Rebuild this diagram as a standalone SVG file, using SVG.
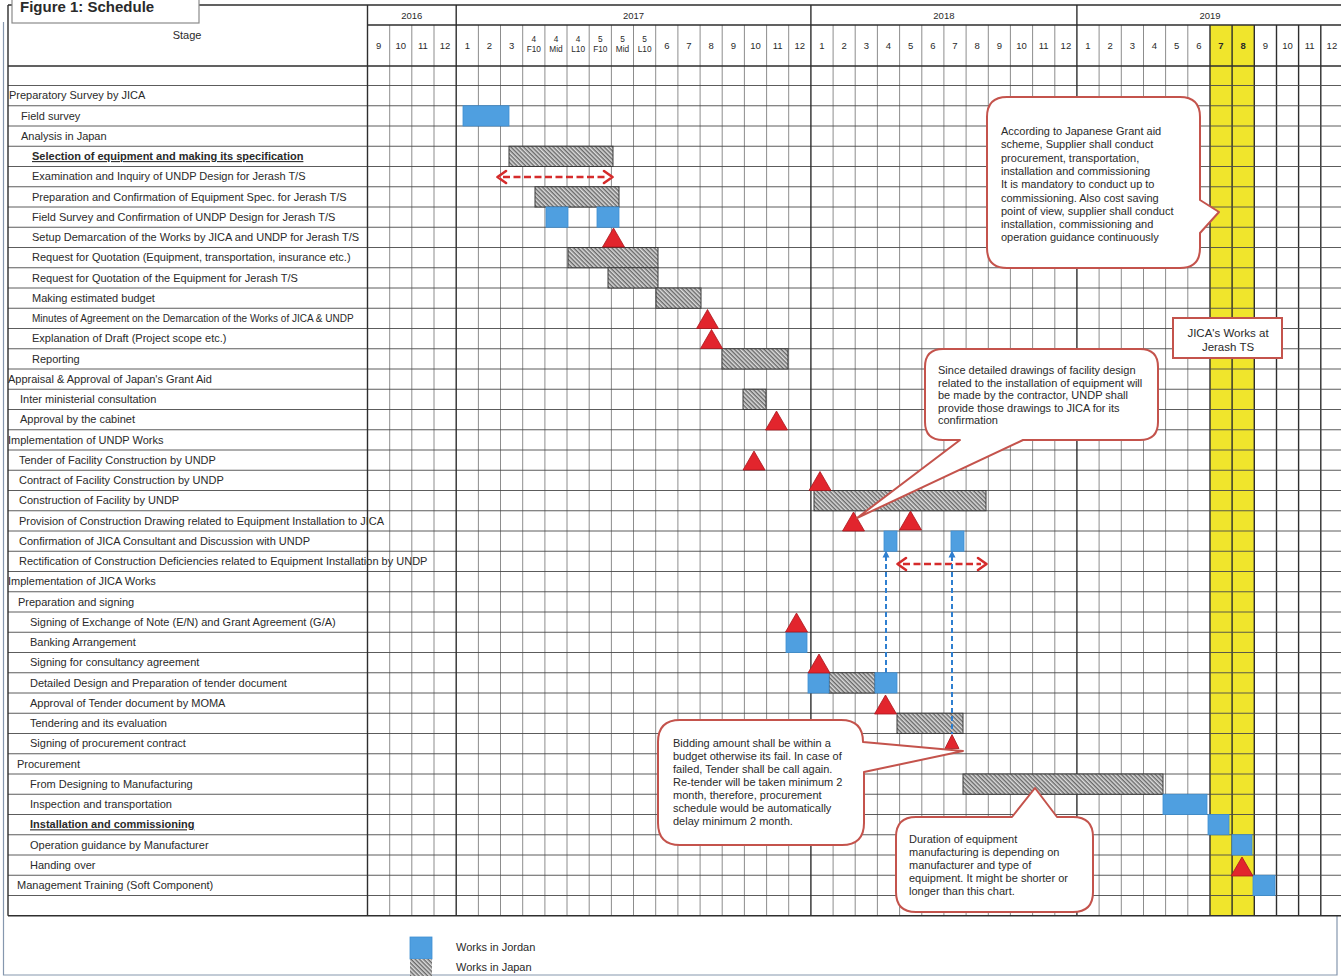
<svg xmlns="http://www.w3.org/2000/svg" xmlns:xlink="http://www.w3.org/1999/xlink" width="1341" height="978" viewBox="0 0 1341 978">
  <style>
    text { font-family: "Liberation Sans", Arial, sans-serif; fill: #2a2a2a; }
    .lbl { font-size: 11px; }
    .sm { font-size: 10px; }
    .bu { font-weight: bold; text-decoration: underline; }
    .hdr { font-size: 9.5px; text-anchor: middle; }
    .hdr2 { font-size: 8.3px; text-anchor: middle; }
    .note { font-size: 11px; }
    .jp { fill: url(#hatch); stroke: #3a3a3a; stroke-width: 1; }
    .jo { fill: #4f9fe0; stroke: #3f8fd2; stroke-width: 0.8; }
    .ms { fill: #e2252d; stroke: #a8151c; stroke-width: 0.8; }
    .callout { fill: #ffffff; stroke: #c4534c; stroke-width: 2; stroke-linejoin: round; }
    .grid { stroke: #707070; stroke-width: 0.8; fill: none; }
    .rows { stroke: #4a4a4a; stroke-width: 0.9; fill: none; }
    .yr { stroke: #2e2e2e; stroke-width: 1.4; fill: none; }
    .rdash { stroke: #d52b2b; stroke-width: 2.6; stroke-dasharray: 7 3.5; fill: none; }
    .rhead { stroke: #d52b2b; stroke-width: 2.6; fill: none; stroke-linecap: round; stroke-linejoin: round; }
    .bdash { stroke: #2e7fd0; stroke-width: 2; stroke-dasharray: 5 3; fill: none; }
  </style>
  <defs>
    <pattern id="hatch" patternUnits="userSpaceOnUse" width="3" height="3" patternTransform="rotate(45)">
      <rect width="3" height="3" fill="#dcdcdc"/>
      <line x1="0" y1="0.8" x2="3" y2="0.8" stroke="#3c3c3c" stroke-width="1.05"/>
    </pattern>
    <path id="tri" d="M0 0L11 19H-11Z"/>
    <path id="tri-s" d="M0 0L7 14H-7Z"/>
  </defs>

  <rect width="1341" height="978" fill="#ffffff"/>

  <!-- outer page frame -->
  <path d="M3.5 22V975H1337V916" fill="none" stroke="#8597ae" stroke-width="1.2"/>

  <!-- highlighted months (2019 Jul-Aug) -->
  <rect x="1210" y="25" width="44.3" height="890.75" fill="#f0e52c"/>

  <!-- grid -->
  <g id="grid">
    <path class="grid" d="M389.7 25V915.75M411.8 25V915.75M434 25V915.75M478.4 25V915.75M500.5 25V915.75M522.7 25V915.75M544.9 25V915.75M567 25V915.75M589.2 25V915.75M611.4 25V915.75M633.5 25V915.75M655.7 25V915.75M677.9 25V915.75M700.1 25V915.75M722.2 25V915.75M744.4 25V915.75M766.6 25V915.75M788.7 25V915.75M833.1 25V915.75M855.2 25V915.75M877.4 25V915.75M899.6 25V915.75M921.8 25V915.75M943.9 25V915.75M966.1 25V915.75M988.3 25V915.75M1010.4 25V915.75M1032.6 25V915.75M1054.8 25V915.75M1099.1 25V915.75M1121.3 25V915.75M1143.5 25V915.75M1165.6 25V915.75M1187.8 25V915.75"/>
    <path class="yr" d="M1210 25V915.75M1232.1 25V915.75M1254.3 25V915.75M1276.5 25V915.75M1298.6 25V915.75M1320.8 25V915.75" stroke-width="0.9" stroke="#555"/>
    <path class="rows" d="M8 85.5H1341M8 105.75H1341M8 126H1341M8 146.25H1341M8 166.5H1341M8 186.75H1341M8 207H1341M8 227.25H1341M8 247.5H1341M8 267.75H1341M8 288H1341M8 308.25H1341M8 328.5H1341M8 348.75H1341M8 369H1341M8 389.25H1341M8 409.5H1341M8 429.75H1341M8 450H1341M8 470.25H1341M8 490.5H1341M8 510.75H1341M8 531H1341M8 551.25H1341M8 571.5H1341M8 591.75H1341M8 612H1341M8 632.25H1341M8 652.5H1341M8 672.75H1341M8 693H1341M8 713.25H1341M8 733.5H1341M8 753.75H1341M8 774H1341M8 794.25H1341M8 814.5H1341M8 834.75H1341M8 855H1341M8 875.25H1341M8 895.5H1341"/>
    <path class="yr" d="M8 5H1341M367.5 25H1341M8 66H1341M8 915.75H1341M8 5V915.75M367.5 5V915.75M456.2 5V915.75M810.9 5V915.75M1076.9 5V915.75"/>
  </g>

  <!-- header -->
  <g id="header">
    <text class="lbl" x="187" y="38.5" text-anchor="middle">Stage</text>
    <text class="hdr" x="411.8" y="18.5">2016</text>
    <text class="hdr" x="633.5" y="18.5">2017</text>
    <text class="hdr" x="943.9" y="18.5">2018</text>
    <text class="hdr" x="1210" y="18.5">2019</text>
    <g class="hdr">
      <text class="hdr" x="378.6" y="48.5">9</text>
      <text class="hdr" x="400.8" y="48.5">10</text>
      <text class="hdr" x="422.9" y="48.5">11</text>
      <text class="hdr" x="445.1" y="48.5">12</text>
      <text class="hdr" x="467.3" y="48.5">1</text>
      <text class="hdr" x="489.4" y="48.5">2</text>
      <text class="hdr" x="511.6" y="48.5">3</text>
      <text class="hdr2" x="533.8" y="41.5">4</text><text class="hdr2" x="533.8" y="51.5">F10</text>
      <text class="hdr2" x="556" y="41.5">4</text><text class="hdr2" x="556" y="51.5">Mid</text>
      <text class="hdr2" x="578.1" y="41.5">4</text><text class="hdr2" x="578.1" y="51.5">L10</text>
      <text class="hdr2" x="600.3" y="41.5">5</text><text class="hdr2" x="600.3" y="51.5">F10</text>
      <text class="hdr2" x="622.5" y="41.5">5</text><text class="hdr2" x="622.5" y="51.5">Mid</text>
      <text class="hdr2" x="644.6" y="41.5">5</text><text class="hdr2" x="644.6" y="51.5">L10</text>
      <text class="hdr" x="666.8" y="48.5">6</text>
      <text class="hdr" x="689" y="48.5">7</text>
      <text class="hdr" x="711.1" y="48.5">8</text>
      <text class="hdr" x="733.3" y="48.5">9</text>
      <text class="hdr" x="755.5" y="48.5">10</text>
      <text class="hdr" x="777.6" y="48.5">11</text>
      <text class="hdr" x="799.8" y="48.5">12</text>
      <text class="hdr" x="822" y="48.5">1</text>
      <text class="hdr" x="844.2" y="48.5">2</text>
      <text class="hdr" x="866.3" y="48.5">3</text>
      <text class="hdr" x="888.5" y="48.5">4</text>
      <text class="hdr" x="910.7" y="48.5">5</text>
      <text class="hdr" x="932.8" y="48.5">6</text>
      <text class="hdr" x="955" y="48.5">7</text>
      <text class="hdr" x="977.2" y="48.5">8</text>
      <text class="hdr" x="999.3" y="48.5">9</text>
      <text class="hdr" x="1021.5" y="48.5">10</text>
      <text class="hdr" x="1043.7" y="48.5">11</text>
      <text class="hdr" x="1065.9" y="48.5">12</text>
      <text class="hdr" x="1088" y="48.5">1</text>
      <text class="hdr" x="1110.2" y="48.5">2</text>
      <text class="hdr" x="1132.4" y="48.5">3</text>
      <text class="hdr" x="1154.5" y="48.5">4</text>
      <text class="hdr" x="1176.7" y="48.5">5</text>
      <text class="hdr" x="1198.9" y="48.5">6</text>
      <text class="hdr" x="1221" y="48.5" font-weight="bold">7</text>
      <text class="hdr" x="1243.2" y="48.5" font-weight="bold">8</text>
      <text class="hdr" x="1265.4" y="48.5">9</text>
      <text class="hdr" x="1287.6" y="48.5">10</text>
      <text class="hdr" x="1309.7" y="48.5">11</text>
      <text class="hdr" x="1331.9" y="48.5">12</text>
    </g>
  </g>

  <!-- title tab -->
  <g id="title">
    <rect x="12" y="-6" width="187" height="29" fill="#ffffff" stroke="#8a8a8a" stroke-width="1.2"/>
    <text x="20" y="12" font-size="15" font-weight="bold" fill="#333">Figure 1: Schedule</text>
  </g>

  <!-- stage labels -->
  <g id="stages" class="lbl">
    <text class="lbl" x="9" y="99.3">Preparatory Survey by JICA</text>
    <text class="lbl" x="21" y="119.55">Field survey</text>
    <text class="lbl" x="21" y="139.8">Analysis in Japan</text>
    <text class="lbl bu" x="32" y="160.05">Selection of equipment and making its specification</text>
    <text class="lbl" x="32" y="180.3">Examination and Inquiry of UNDP Design for Jerash T/S</text>
    <text class="lbl" x="32" y="200.55">Preparation and Confirmation of Equipment Spec. for Jerash T/S</text>
    <text class="lbl" x="32" y="220.8">Field Survey and Confirmation of UNDP Design for Jerash T/S</text>
    <text class="lbl" x="32" y="241.05">Setup Demarcation of the Works by JICA and UNDP for Jerash T/S</text>
    <text class="lbl" x="32" y="261.3">Request for Quotation (Equipment, transportation, insurance etc.)</text>
    <text class="lbl" x="32" y="281.55">Request for Quotation of the Equipment for Jerash T/S</text>
    <text class="lbl" x="32" y="301.8">Making estimated budget</text>
    <text class="sm" x="32" y="322.05">Minutes of Agreement on the Demarcation of the Works of JICA &amp; UNDP</text>
    <text class="lbl" x="32" y="342.3">Explanation of Draft (Project scope etc.)</text>
    <text class="lbl" x="32" y="362.55">Reporting</text>
    <text class="lbl" x="8" y="382.8">Appraisal &amp; Approval of Japan's Grant Aid</text>
    <text class="lbl" x="20" y="403.05">Inter ministerial consultation</text>
    <text class="lbl" x="20" y="423.3">Approval by the cabinet</text>
    <text class="lbl" x="8" y="443.55">Implementation of UNDP Works</text>
    <text class="lbl" x="19" y="463.8">Tender of Facility Construction by UNDP</text>
    <text class="lbl" x="19" y="484.05">Contract of Facility Construction by UNDP</text>
    <text class="lbl" x="19" y="504.3">Construction of Facility by UNDP</text>
    <text class="lbl" x="19" y="524.55">Provision of Construction Drawing related to Equipment Installation to JICA</text>
    <text class="lbl" x="19" y="544.8">Confirmation of JICA Consultant and Discussion with UNDP</text>
    <text class="lbl" x="19" y="565.05">Rectification of Construction  Deficiencies related to Equipment Installation by UNDP</text>
    <text class="lbl" x="8" y="585.3">Implementation of JICA Works</text>
    <text class="lbl" x="18" y="605.55">Preparation and signing</text>
    <text class="lbl" x="30" y="625.8">Signing of Exchange of Note (E/N) and Grant Agreement (G/A)</text>
    <text class="lbl" x="30" y="646.05">Banking Arrangement</text>
    <text class="lbl" x="30" y="666.3">Signing for consultancy agreement</text>
    <text class="lbl" x="30" y="686.55">Detailed Design and Preparation of tender document</text>
    <text class="lbl" x="30" y="706.8">Approval of Tender document by MOMA</text>
    <text class="lbl" x="30" y="727.05">Tendering and its evaluation</text>
    <text class="lbl" x="30" y="747.3">Signing of procurement contract</text>
    <text class="lbl" x="17" y="767.55">Procurement</text>
    <text class="lbl" x="30" y="787.8">From Designing to Manufacturing</text>
    <text class="lbl" x="30" y="808.05">Inspection and transportation</text>
    <text class="lbl bu" x="30" y="828.3">Installation and commissioning</text>
    <text class="lbl" x="30" y="848.55">Operation guidance by Manufacturer</text>
    <text class="lbl" x="30" y="868.8">Handing over</text>
    <text class="lbl" x="17" y="889.05">Management Training (Soft Component)</text>
  </g>

  <!-- works carried out in Japan (hatched) -->
  <g id="works-japan">
    <rect class="jp" x="509" y="146.25" width="104" height="20.25"/>
    <rect class="jp" x="535" y="186.75" width="84" height="20.25"/>
    <rect class="jp" x="568" y="247.5" width="90" height="20.25"/>
    <rect class="jp" x="608" y="267.75" width="50" height="20.25"/>
    <rect class="jp" x="656" y="288" width="45" height="20.25"/>
    <rect class="jp" x="722" y="348.75" width="66" height="20.25"/>
    <rect class="jp" x="743" y="389.25" width="23" height="20.25"/>
    <rect class="jp" x="814" y="490.5" width="172" height="20.25"/>
    <rect class="jp" x="829" y="672.75" width="46" height="20.25"/>
    <rect class="jp" x="897" y="713.25" width="66" height="20.25"/>
    <rect class="jp" x="963" y="774" width="200" height="20.25"/>
  </g>

  <!-- works carried out in Jordan (blue) -->
  <g id="works-jordan">
    <rect class="jo" x="463" y="105.75" width="46" height="20.25"/>
    <rect class="jo" x="546" y="207" width="22" height="20.25"/>
    <rect class="jo" x="597" y="207" width="22" height="20.25"/>
    <rect class="jo" x="884" y="531" width="13" height="20.25"/>
    <rect class="jo" x="951" y="531" width="13" height="20.25"/>
    <rect class="jo" x="786" y="632.25" width="21" height="20.25"/>
    <rect class="jo" x="808" y="672.75" width="21" height="20.25"/>
    <rect class="jo" x="875" y="672.75" width="22" height="20.25"/>
    <rect class="jo" x="1163" y="794.25" width="44" height="20.25"/>
    <rect class="jo" x="1208" y="814.5" width="21" height="20.25"/>
    <rect class="jo" x="1232" y="834.75" width="20" height="20.25"/>
    <rect class="jo" x="1253" y="875.25" width="22" height="20.25"/>
  </g>

  <!-- milestones -->
  <g id="milestones" class="ms">
    <use href="#tri" x="613.5" y="228"/>
    <use href="#tri" x="707.5" y="309.5"/>
    <use href="#tri" x="711.5" y="329.5"/>
    <use href="#tri" x="776.5" y="411"/>
    <use href="#tri" x="754" y="451"/>
    <use href="#tri" x="820" y="471.5"/>
    <use href="#tri" x="853.5" y="512"/>
    <use href="#tri" x="910.5" y="511"/>
    <use href="#tri" x="796.5" y="613"/>
    <use href="#tri" x="819" y="654"/>
    <use href="#tri" x="885.5" y="695"/>
    <use href="#tri-s" x="952" y="734.5"/>
    <use href="#tri" x="1242" y="857"/>
  </g>

  <!-- connectors -->
  <g id="connectors">
    <line class="rdash" x1="503" y1="177" x2="607" y2="177"/>
    <path class="rhead" d="M506 171L497.5 177L506 183M604 171L612.5 177L604 183"/>
    <line class="rdash" x1="903" y1="564" x2="981" y2="564"/>
    <path class="rhead" d="M906 558L897.5 564L906 570M978 558L986.5 564L978 570"/>
    <line class="bdash" x1="886" y1="556" x2="886" y2="672.75"/>
    <line class="bdash" x1="952" y1="556" x2="952" y2="734"/>
    <path d="M886 550.5L882.5 557.5H889.5Z M952 550.5L948.5 557.5H955.5Z" fill="#2e7fd0"/>
  </g>

  <!-- notes -->
  <g id="note-supplier">
    <path class="callout" d="M1007 97H1180Q1200 97 1200 117V200L1219 212L1200 233V248Q1200 268 1180 268H1007Q987 268 987 248V117Q987 97 1007 97Z"/>
    <text class="note" x="1001" y="135">According to Japanese Grant aid</text>
    <text class="note" x="1001" y="148.3">scheme, Supplier shall conduct</text>
    <text class="note" x="1001" y="161.6">procurement, transportation,</text>
    <text class="note" x="1001" y="174.9">installation and commissioning</text>
    <text class="note" x="1001" y="188.2">It is mandatory to conduct up to</text>
    <text class="note" x="1001" y="201.5">commissioning.  Also cost saving</text>
    <text class="note" x="1001" y="214.8">point of view, supplier shall conduct</text>
    <text class="note" x="1001" y="228.1">installation, commissioning and</text>
    <text class="note" x="1001" y="241.4">operation guidance  continuously</text>
  </g>

  <g id="note-jerash">
    <rect x="1173" y="318" width="109" height="40" fill="#ffffff" stroke="#c4534c" stroke-width="2"/>
    <text x="1228" y="337" font-size="11.5" text-anchor="middle">JICA's Works at</text>
    <text x="1228" y="350.5" font-size="11.5" text-anchor="middle">Jerash TS</text>
  </g>

  <g id="note-drawings">
    <path class="callout" d="M943 349H1140Q1158 349 1158 367V422Q1158 440 1140 440H1023L857 518L960 440H943Q925 440 925 422V367Q925 349 943 349Z"/>
    <text class="note" x="938" y="374">Since detailed drawings of facility design</text>
    <text class="note" x="938" y="386.5">related to the installation of equipment  will</text>
    <text class="note" x="938" y="399">be made by the contractor, UNDP  shall</text>
    <text class="note" x="938" y="411.5">provide those drawings to JICA for its</text>
    <text class="note" x="938" y="424">confirmation</text>
  </g>

  <g id="note-bidding">
    <path class="callout" d="M680 720H841Q863 720 863 742L963 751L864 772V823Q864 845 842 845H680Q658 845 658 823V742Q658 720 680 720Z"/>
    <text class="note" x="673" y="747">Bidding amount shall be within a</text>
    <text class="note" x="673" y="760">budget otherwise its fail. In case of</text>
    <text class="note" x="673" y="773">failed, Tender shall be call again.</text>
    <text class="note" x="673" y="786">Re-tender will be taken minimum  2</text>
    <text class="note" x="673" y="799">month, therefore, procurement</text>
    <text class="note" x="673" y="812">schedule  would be automatically</text>
    <text class="note" x="673" y="825">delay minimum  2 month.</text>
  </g>

  <g id="note-duration">
    <path class="callout" d="M916 817H1012L1035 788L1057 817H1073Q1093 817 1093 837V892Q1093 912 1073 912H916Q896 912 896 892V837Q896 817 916 817Z"/>
    <text class="note" x="909" y="843">Duration of equipment</text>
    <text class="note" x="909" y="856">manufacturing  is depending  on</text>
    <text class="note" x="909" y="869">manufacturer  and type of</text>
    <text class="note" x="909" y="882">equipment.  It might  be shorter or</text>
    <text class="note" x="909" y="895">longer than this chart.</text>
  </g>

  <!-- legend -->
  <g id="legend">
    <rect class="jo" x="410" y="937" width="22" height="22"/>
    <rect x="410" y="959" width="22" height="17" fill="url(#hatch)"/>
    <text class="lbl" x="456" y="951">Works in Jordan</text>
    <text class="lbl" x="456" y="971">Works in Japan</text>
  </g>
</svg>
